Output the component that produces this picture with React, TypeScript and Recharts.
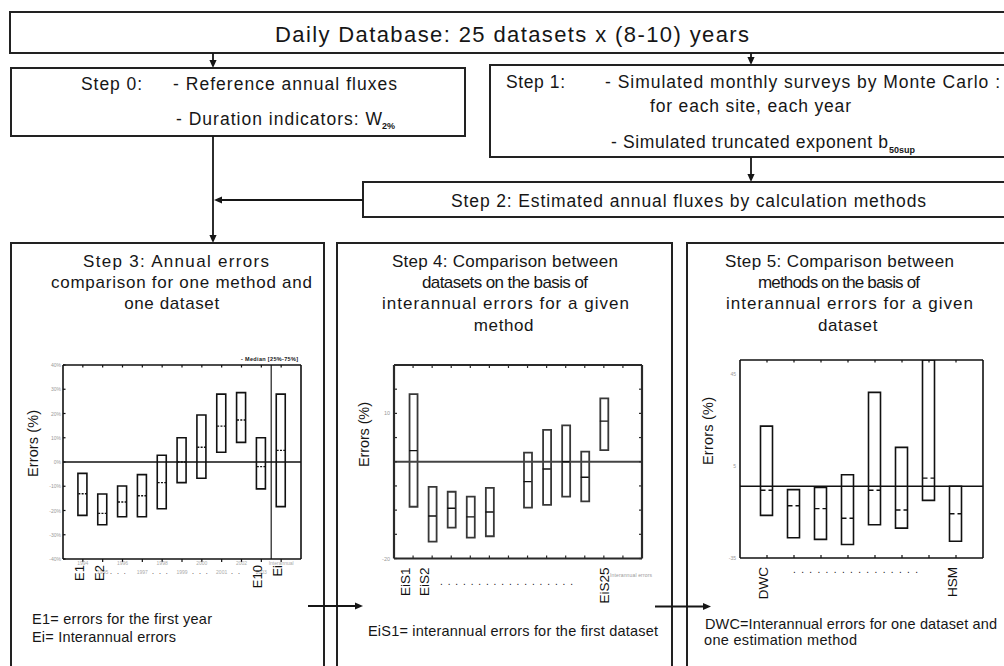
import React from 'react';
import { ComposedChart, Bar, Scatter, XAxis, YAxis, ReferenceLine } from 'recharts';

const FONT = '"Liberation Sans", Arial, Helvetica, sans-serif';
const INK = '#161616';

// ---------- Step 3 : annual errors, one method, one dataset ----------
const step3Categories = ['E1', 'E2', 'E3', 'E4', 'E5', 'E6', 'E7', 'E8', 'E9', 'E10', 'Ei'];
const step3AxisLabels = ['E1', 'E2', '', '', '', '', '', '', '', 'E10', 'Ei'];
const step3YearLabels = ['1994', '1995', '1996', '1997', '1998', '1999', '2000', '2001', '2002', '2003', 'Interannual'];
const step3Low = [-22.0, -25.9, -22.6, -22.6, -19.3, -8.5, -6.7, 4.0, 8.1, -11.1, -18.4];
const step3High = [-4.7, -13.2, -9.9, -5.2, 2.8, 10.0, 19.4, 28.0, 28.6, 10.0, 28.0];
const step3Median = [-13.1, -21.2, -16.5, -13.9, -8.5, 0.0, 6.1, 14.8, 17.3, -1.9, 4.8];
const step3YTicks = [-40, -30, -20, -10, 0, 10, 20, 30, 40];

// ---------- Step 4 : datasets compared, one method ----------
const step4Categories = ['EiS1', 'EiS2', 'EiS3', 'EiS4', 'EiS5', '', 'EiS21', 'EiS22', 'EiS23', 'EiS24', 'EiS25', ''];
const step4AxisLabels = ['EiS1', 'EiS2', '', '', '', '', '', '', '', '', 'EiS25', ''];
const step4Low = [-9.3, -16.5, -13.6, -15.7, -15.4, null, -9.5, -8.9, -7.2, -8.2, 2.4, null];
const step4High = [14.0, -5.2, -6.2, -7.2, -5.4, null, 1.9, 6.6, 7.5, 2.1, 13.1, null];
const step4Median = [2.3, -11.2, -9.6, -11.4, -10.4, null, -4.1, -1.5, 0.0, -3.2, 8.4, null];
const step4YTicks = [-20, -15, -10, -5, 0, 5, 10, 15, 20];
const step4YLabelled = [10, -20];

// ---------- Step 5 : methods compared, one dataset ----------
const step5Categories = ['DWC', 'M2', 'M3', 'M4', 'M5', 'M6', 'M7', 'HSM'];
const step5AxisLabels = ['DWC', '', '', '', '', '', '', 'HSM'];
const step5Low = [-16.4, -26.2, -26.9, -29.1, -20.5, -22.0, -9.9, -27.7];
const step5High = [22.5, -5.2, -4.3, 1.3, 37.2, 13.2, 51.3, -3.7];
const step5Median = [-5.5, -12.2, -13.5, -17.7, -5.5, -14.1, -0.2, -15.7];
const step5YTicks = [-35, 5, 45];
const step5Reference = -3.7;

type Row = { x: number; name: string; range: [number, number]; median: number };

const makeRows = (
  names: string[],
  low: (number | null)[],
  high: (number | null)[],
  med: (number | null)[]
): Row[] => {
  const rows: Row[] = [];
  names.forEach((name, i) => {
    const l = low[i];
    const h = high[i];
    const m = med[i];
    if (l == null || h == null || m == null) return;
    rows.push({ x: i, name, range: [l, h], median: m });
  });
  return rows;
};

const range = (n: number) => Array.from({ length: n }, (_, i) => i);

const ML = 50, MT = 20, MR = 20, MB = 60;
const YW = 30, YRW = 10, XTH = 10, XBH = 50;

type BoxChartProps = {
  left: number; top: number; width: number; height: number;
  rows: Row[];
  xDomain: [number, number]; xTicks: number[];
  yDomain: [number, number]; yTicks: number[];
  barSize: number; barStroke: string; barStrokeWidth: number;
  medianDash?: string; medianStroke: string;
  frame: string; frameWidth: number;
  refY: number; refStroke: string; refWidth: number;
  refX?: number;
  bottomTick: (x: number, y: number, v: number) => React.ReactElement;
  leftTick: (x: number, y: number, v: number) => React.ReactElement;
  rightTickLen: number;
  topTickLen: number;
};

function BoxChart(p: BoxChartProps) {
  const axisLine = { stroke: p.frame, strokeWidth: p.frameWidth };
  const half = p.barSize / 2;
  return (
    <div style={{ position: 'absolute', left: p.left - ML, top: p.top - MT }}>
      <ComposedChart
        width={p.width + ML + MR}
        height={p.height + MT + MB}
        data={p.rows}
        margin={{ top: MT - XTH, right: MR - YRW, bottom: MB - XBH, left: ML - YW }}
      >
        <XAxis
          dataKey="x" type="number" domain={p.xDomain} ticks={p.xTicks} interval={0}
          allowDataOverflow height={XBH} axisLine={axisLine} tickLine={false}
          tickSize={0} tickMargin={0}
          tick={(t: any) => p.bottomTick(t.x, t.y, t.payload.value)}
        />
        <XAxis
          xAxisId="top" orientation="top" dataKey="x" type="number" domain={p.xDomain}
          ticks={p.xTicks} interval={0} allowDataOverflow height={XTH} axisLine={axisLine}
          tickLine={false} tickSize={0} tickMargin={0}
          tick={(t: any) => (
            <line x1={t.x} x2={t.x} y1={t.y} y2={t.y + p.topTickLen} stroke={p.frame} strokeWidth={1.2} />
          )}
        />
        <YAxis
          type="number" domain={p.yDomain} ticks={p.yTicks} interval={0} allowDataOverflow
          width={YW} axisLine={axisLine} tickLine={false} tickSize={0} tickMargin={0}
          tick={(t: any) => p.leftTick(t.x, t.y, t.payload.value)}
        />
        <YAxis
          yAxisId="right" orientation="right" type="number" domain={p.yDomain} ticks={p.yTicks}
          interval={0} allowDataOverflow width={YRW} axisLine={axisLine} tickLine={false}
          tickSize={0} tickMargin={0}
          tick={(t: any) => (
            <line x1={t.x - p.rightTickLen} x2={t.x} y1={t.y} y2={t.y} stroke={p.frame} strokeWidth={1.2} />
          )}
        />
        {p.refX != null && (
          <ReferenceLine x={p.refX} stroke="#4a4a4a" strokeWidth={1.5} />
        )}
        <ReferenceLine y={p.refY} stroke={p.refStroke} strokeWidth={p.refWidth} />
        <Bar
          dataKey="range" barSize={p.barSize} fill="none" stroke={p.barStroke}
          strokeWidth={p.barStrokeWidth} isAnimationActive={false}
        />
        <Scatter
          dataKey="median" isAnimationActive={false}
          shape={(s: any) =>
            s.cx == null ? <g /> : (
              <line
                x1={s.cx - half} x2={s.cx + half} y1={s.cy} y2={s.cy}
                stroke={p.medianStroke} strokeWidth={1.4} strokeDasharray={p.medianDash}
              />
            )
          }
        />
      </ComposedChart>
    </div>
  );
}

type TxtProps = {
  x: number; y: number; w?: number; size?: number; weight?: string | number;
  fill?: string; anchor?: string; rotate?: boolean; spacing?: number; children: React.ReactNode;
};
const Txt = ({ x, y, w, size = 17, weight, fill = INK, anchor, rotate, spacing, children }: TxtProps) => (
  <text
    x={x} y={y} fontSize={size} fontFamily={FONT} fill={fill} fontWeight={weight as any}
    textLength={w} lengthAdjust={w ? 'spacing' : undefined} textAnchor={anchor as any}
    letterSpacing={spacing}
    transform={rotate ? `rotate(-90 ${x} ${y})` : undefined}
  >
    {children}
  </text>
);

const Arrow = ({ x1, y1, x2, y2 }: { x1: number; y1: number; x2: number; y2: number }) => {
  const dx = x2 - x1, dy = y2 - y1;
  const len = Math.hypot(dx, dy);
  const ux = dx / len, uy = dy / len;
  const L = 8, W = 3.6;
  const bx = x2 - ux * L, by = y2 - uy * L;
  const pts = `${x2},${y2} ${bx - uy * W},${by + ux * W} ${bx + uy * W},${by - ux * W}`;
  return (
    <g>
      <line x1={x1} y1={y1} x2={bx} y2={by} stroke={INK} strokeWidth={1.8} />
      <polygon points={pts} fill={INK} />
    </g>
  );
};

const BOX = { fill: 'none', stroke: '#222', strokeWidth: 2 };

export default function App() {
  const rows3 = makeRows(step3Categories, step3Low, step3High, step3Median);
  const rows4 = makeRows(step4Categories, step4Low, step4High, step4Median);
  const rows5 = makeRows(step5Categories, step5Low, step5High, step5Median);

  return (
    <div
      style={{
        position: 'absolute', left: 0, top: 0, width: 1004, height: 666,
        background: '#fff', overflow: 'hidden', fontFamily: FONT,
      }}
    >
      <svg width={1004} height={666} style={{ position: 'absolute', left: 0, top: 0 }}>
        {/* Daily database */}
        <rect x={10} y={12} width={1010} height={41} {...BOX} />
        <Txt x={275} y={41.5} w={474} size={22}>Daily Database: 25 datasets x (8-10) years</Txt>
        <Arrow x1={213} y1={53} x2={213} y2={68} />
        <Arrow x1={751} y1={53} x2={751} y2={65} />

        {/* Step 0 */}
        <rect x={11} y={68} width={454} height={68} {...BOX} />
        <Txt x={81} y={89.5} w={61} size={17.5}>Step 0:</Txt>
        <Txt x={173} y={89.5} w={224} size={17.5}>- Reference annual fluxes</Txt>
        <Txt x={176} y={125} w={206} size={17.5}>- Duration indicators: W</Txt>
        <Txt x={382} y={129} size={9} weight="bold">2%</Txt>

        {/* Step 1 */}
        <rect x={490} y={65} width={530} height={92} {...BOX} />
        <Txt x={506} y={88.3} w={59} size={17.5}>Step 1:</Txt>
        <Txt x={605} y={88.3} w={395} size={17.5}>- Simulated monthly surveys by Monte Carlo :</Txt>
        <Txt x={650} y={111.7} w={201} size={17.5}>for each site, each year</Txt>
        <Txt x={611} y={148.3} w={277} size={17.5}>- Simulated truncated exponent b</Txt>
        <Txt x={889} y={152.5} size={9} weight="bold">50sup</Txt>
        <Arrow x1={751} y1={157} x2={751} y2={182} />

        {/* Step 2 */}
        <rect x={363} y={182} width={660} height={35} {...BOX} />
        <Txt x={451} y={206.7} w={475} size={17.5}>Step 2: Estimated annual fluxes by calculation methods</Txt>
        <Arrow x1={363} y1={200} x2={214} y2={200} />
        <Arrow x1={213} y1={136} x2={213} y2={243} />

        {/* Step boxes */}
        <rect x={11} y={243} width={313} height={440} {...BOX} />
        <rect x={337} y={243} width={335} height={440} {...BOX} />
        <rect x={687} y={243} width={340} height={440} {...BOX} />

        <Txt x={83} y={266.5} w={186}>Step 3: Annual errors</Txt>
        <Txt x={51} y={288} w={261}>comparison for one method and</Txt>
        <Txt x={172} y={309} anchor="middle" spacing={0.6}>one dataset</Txt>

        <Txt x={392} y={266.5} w={226}>Step 4: Comparison between</Txt>
        <Txt x={422} y={288} w={166}>datasets on the basis of</Txt>
        <Txt x={382} y={309} w={247}>interannual errors for a given</Txt>
        <Txt x={504} y={330.5} anchor="middle" spacing={0.6}>method</Txt>

        <Txt x={725} y={266.5} w={229}>Step 5: Comparison between</Txt>
        <Txt x={758} y={288} w={162}>methods on the basis of</Txt>
        <Txt x={726} y={309} w={247}>interannual errors for a given</Txt>
        <Txt x={848} y={330.5} anchor="middle" spacing={0.6}>dataset</Txt>

        {/* axis titles */}
        <Txt x={38} y={443.5} w={67} size={14.5} anchor="middle" rotate>Errors (%)</Txt>
        <Txt x={369} y={434.5} w={65} size={14.5} anchor="middle" rotate>Errors (%)</Txt>
        <Txt x={713} y={431} w={68} size={14.5} anchor="middle" rotate>Errors (%)</Txt>

        {/* chart 1 legend */}
        <Txt x={241} y={361} w={57} size={5.5} weight="bold">- Median  [25%-75%]</Txt>

        {/* dotted ellipses (chart 1 dots sit between the small year labels) */}
        <Txt x={110} y={574} size={7} spacing={1.5}>. . .</Txt>
        <Txt x={152} y={574} size={7} spacing={1.5}>. . .</Txt>
        <Txt x={192} y={574} size={7} spacing={1.5}>. . .</Txt>
        <Txt x={231} y={574} size={7} spacing={1.5}>. .</Txt>
        <Txt x={440} y={584.5} w={133} size={10}>. . .   . . .   . . .   . . . . . . . . .</Txt>
        <Txt x={793} y={572.5} w={125} size={10}>. . .   . . .   . . .   . . .   . . . .</Txt>
        <Txt x={610} y={577} w={42} size={5} fill="#999">Interannual errors</Txt>

        {/* notes */}
        <Txt x={32} y={623.5} w={180} size={14.5}>E1= errors for the first year</Txt>
        <Txt x={32} y={641.5} w={144} size={14.5}>Ei= Interannual errors</Txt>
        <Txt x={368} y={636} w={290} size={14.5}>EiS1= interannual errors for the first dataset</Txt>
        <Txt x={705} y={628.5} w={292} size={14.5}>DWC=Interannual errors for one dataset and</Txt>
        <Txt x={704} y={645} w={153} size={14.5}>one estimation method</Txt>

        {/* arrows between steps */}
        <Arrow x1={308} y1={606} x2={363} y2={606} />
        <Arrow x1={655} y1={606.5} x2={711} y2={606.5} />
      </svg>

      {/* Step 3 chart */}
      <BoxChart
        left={63} top={365} width={238} height={194}
        rows={rows3}
        xDomain={[-1, 11]} xTicks={range(step3Categories.length)}
        yDomain={[-40, 40]} yTicks={step3YTicks}
        barSize={9} barStroke="#111" barStrokeWidth={1.6}
        medianDash="2 1.3" medianStroke="#111"
        frame="#111" frameWidth={1.6}
        refY={0} refStroke="#111" refWidth={1.6} refX={9.5}
        topTickLen={2.5} rightTickLen={0}
        bottomTick={(x, y, v) => {
          const lab = step3AxisLabels[v] || '';
          const year = step3YearLabels[v] || '';
          return (
            <g>
              <line x1={x} x2={x} y1={y} y2={y + 3} stroke="#111" strokeWidth={1.2} />
              <text x={x} y={v % 2 === 0 ? y + 6 : y + 15} fontSize={5} fill="#aaa" textAnchor="middle" fontFamily={FONT}>{year}</text>
              {lab && (
                <text
                  x={x + 1} y={y + 6} fontSize={13} fill="#111" textAnchor="end" fontFamily={FONT}
                  transform={`rotate(-90 ${x + 1} ${y + 6})`}
                >{lab}</text>
              )}
            </g>
          );
        }}
        leftTick={(x, y, v) => (
          <g>
            <line x1={x} x2={x + 2.5} y1={y} y2={y} stroke="#111" strokeWidth={1.2} />
            <text x={x - 2} y={y + 2} fontSize={5} fill="#999" textAnchor="end" fontFamily={FONT}>{`${v}%`}</text>
          </g>
        )}
      />

      {/* Step 4 chart */}
      <BoxChart
        left={393.5} top={364.5} width={248} height={193.5}
        rows={rows4}
        xDomain={[-1, 12]} xTicks={range(step4Categories.length)}
        yDomain={[-20, 20]} yTicks={step4YTicks}
        barSize={8} barStroke="#383838" barStrokeWidth={1.8}
        medianStroke="#111"
        frame="#2a2a2a" frameWidth={2.2}
        refY={0} refStroke="#444" refWidth={2}
        topTickLen={3} rightTickLen={3}
        bottomTick={(x, y, v) => {
          const lab = step4AxisLabels[v] || '';
          const ax = lab === 'EiS25' ? x + 5 : x - 3;
          return (
            <g>
              <line x1={x} x2={x} y1={y - 3} y2={y} stroke="#2a2a2a" strokeWidth={1.2} />
              {lab && (
                <text
                  x={ax} y={y + 9} fontSize={13.5} fill="#111" textAnchor="end" fontFamily={FONT}
                  transform={`rotate(-90 ${ax} ${y + 9})`}
                >{lab}</text>
              )}
            </g>
          );
        }}
        leftTick={(x, y, v) => (
          <g>
            <line x1={x} x2={x + 3} y1={y} y2={y} stroke="#2a2a2a" strokeWidth={1.2} />
            {step4YLabelled.includes(v) && (
              <text x={x - 4} y={y + 2} fontSize={5.5} fill="#999" textAnchor="end" fontFamily={FONT}>{v}</text>
            )}
          </g>
        )}
      />

      {/* Step 5 chart */}
      <BoxChart
        left={740} top={360} width={243} height={198}
        rows={rows5}
        xDomain={[-1, 8]} xTicks={range(step5Categories.length)}
        yDomain={[-35, 51.3]} yTicks={step5YTicks}
        barSize={12} barStroke="#111" barStrokeWidth={1.6}
        medianDash="4.5 3" medianStroke="#111"
        frame="#111" frameWidth={1.6}
        refY={step5Reference} refStroke="#111" refWidth={1.6}
        topTickLen={2.5} rightTickLen={0}
        bottomTick={(x, y, v) => {
          const lab = step5AxisLabels[v] || '';
          const ax = x + 1;
          return (
            <g>
              <line x1={x} x2={x} y1={y - 3} y2={y} stroke="#111" strokeWidth={1.2} />
              {lab && (
                <text
                  x={ax} y={y + 9} fontSize={13.5} fill="#111" textAnchor="end" fontFamily={FONT}
                  transform={`rotate(-90 ${ax} ${y + 9})`}
                >{lab}</text>
              )}
            </g>
          );
        }}
        leftTick={(x, y, v) => (
          <text x={x - 4} y={y + 2} fontSize={5} fill="#999" textAnchor="end" fontFamily={FONT}>{v}</text>
        )}
      />
    </div>
  );
}
